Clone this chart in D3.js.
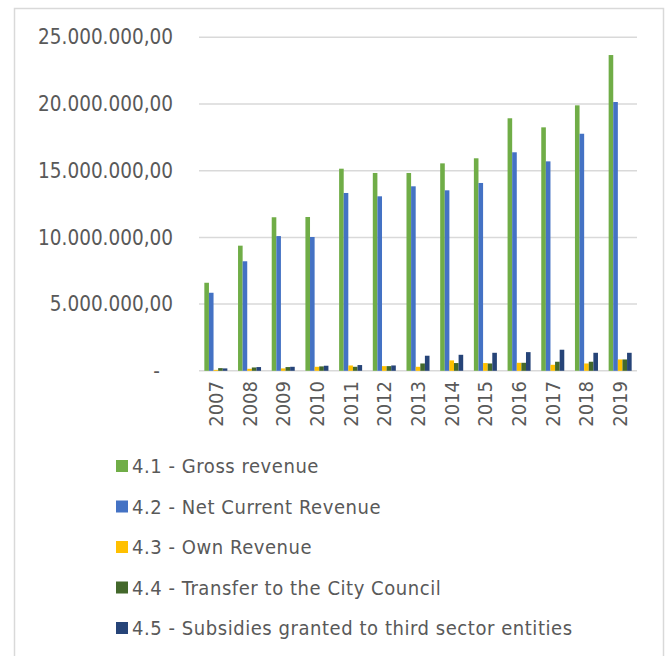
<!DOCTYPE html>
<html>
<head>
<meta charset="utf-8">
<script src="https://cdn.jsdelivr.net/npm/d3@7"></script>
<style>
  body { margin: 0; background: #fff; }
  text { font-family: "DejaVu Sans Condensed", "DejaVu Sans", sans-serif; fill: #595959; }
</style>
</head>
<body>
<svg id="chart" width="667" height="656"></svg>
<script>
const years = ["2007", "2008", "2009", "2010", "2011", "2012", "2013", "2014", "2015", "2016", "2017", "2018", "2019"];
const seriesNames = [
  "4.1 - Gross revenue",
  "4.2 - Net Current Revenue",
  "4.3 - Own Revenue",
  "4.4 - Transfer to the City Council",
  "4.5 - Subsidies granted to third sector entities"
];
const grossRevenue = [6600000, 9380000, 11510000, 11530000, 15150000, 14830000, 14830000, 15550000, 15930000, 18930000, 18250000, 19900000, 23670000];
const netCurrentRevenue = [5850000, 8210000, 10100000, 10030000, 13330000, 13080000, 13830000, 13530000, 14080000, 16380000, 15700000, 17770000, 20150000];
const ownRevenue = [70000, 150000, 180000, 300000, 400000, 350000, 300000, 780000, 580000, 600000, 450000, 550000, 850000];
const transferCityCouncil = [200000, 250000, 280000, 330000, 300000, 350000, 550000, 580000, 550000, 600000, 680000, 680000, 850000];
const subsidiesThirdSector = [180000, 280000, 300000, 380000, 430000, 400000, 1130000, 1200000, 1350000, 1400000, 1580000, 1350000, 1350000];
const yTicks = [0, 5000000, 10000000, 15000000, 20000000, 25000000];
const colors = ["#70AD47", "#4472C4", "#FFC000", "#43682B", "#264478"];

const series = [grossRevenue, netCurrentRevenue, ownRevenue, transferCityCouncil, subsidiesThirdSector];

const svg = d3.select("#chart");

// chart area frame
svg.append("rect")
  .attr("x", 14.5).attr("y", 8.5)
  .attr("width", 649).attr("height", 660)
  .attr("fill", "none")
  .attr("stroke", "#d9d9d9")
  .attr("stroke-width", 1.5);

const plot = { left: 199, right: 637, top: 37.3, bottom: 370.8 };

const x = d3.scaleBand().domain(years).range([plot.left, plot.right]).paddingInner(0).paddingOuter(0);
const y = d3.scaleLinear().domain([0, 25000000]).range([plot.bottom, plot.top]);
const inner = d3.scaleBand().domain(d3.range(series.length))
  .range([0, x.bandwidth()]).paddingOuter(1.16).paddingInner(0);

const fmt = (v) => v === 0 ? "-" : d3.formatLocale({ decimal: ",", thousands: ".", grouping: [3], currency: ["", ""] }).format(",.2f")(v);

// gridlines
svg.append("g")
  .selectAll("line")
  .data(yTicks)
  .join("line")
  .attr("x1", plot.left).attr("x2", plot.right)
  .attr("y1", (d) => y(d)).attr("y2", (d) => y(d))
  .attr("stroke", "#d9d9d9")
  .attr("stroke-width", 1.5);

// y tick labels
svg.append("g")
  .selectAll("text")
  .data(yTicks)
  .join("text")
  .attr("x", (d) => d === 0 ? 160 : 173)
  .attr("y", (d) => y(d))
  .attr("dy", "0.35em")
  .attr("text-anchor", "end")
  .style("font-size", "20.5px")
  .text(fmt);

// bars
const groups = svg.append("g")
  .selectAll("g")
  .data(years)
  .join("g")
  .attr("transform", (d) => `translate(${x(d)},0)`);

groups.selectAll("rect")
  .data((d, i) => series.map((s, k) => ({ k, v: s[i] })))
  .join("rect")
  .attr("x", (d) => inner(d.k))
  .attr("width", inner.bandwidth())
  .attr("y", (d) => y(d.v))
  .attr("height", (d) => y(0) - y(d.v))
  .attr("fill", (d) => colors[d.k]);

// x labels, rotated
svg.append("g")
  .selectAll("text")
  .data(years)
  .join("text")
  .attr("transform", (d) => `translate(${x(d) + x.bandwidth() / 2},381) rotate(-90)`)
  .attr("text-anchor", "end")
  .attr("dy", "0.35em")
  .style("font-size", "20px")
  .text((d) => d);

// legend
const legend = svg.append("g")
  .selectAll("g")
  .data(seriesNames)
  .join("g")
  .attr("transform", (d, i) => `translate(116,${466 + i * 40.5})`);

legend.append("rect")
  .attr("x", 0).attr("y", -6)
  .attr("width", 12).attr("height", 12)
  .attr("fill", (d, i) => colors[i]);

legend.append("text")
  .attr("x", 16)
  .attr("dy", "0.35em")
  .style("font-size", "20px")
  .style("letter-spacing", "0.55px")
  .text((d) => d);
</script>
</body>
</html>
